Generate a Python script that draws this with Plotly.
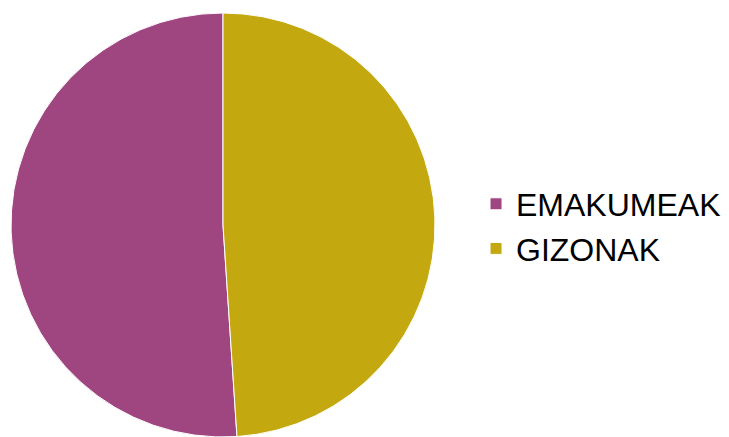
import plotly.graph_objects as go

labels = ["EMAKUMEAK", "GIZONAK"]
values = [51.05, 48.95]
colors = ["#9F4580", "#C3A80F"]

fig = go.Figure(go.Pie(
    labels=labels,
    values=values,
    sort=False,
    direction="clockwise",
    rotation=176.22,
    marker=dict(colors=colors, line=dict(color="white", width=1)),
    textinfo="none",
    hoverinfo="label+percent",
    domain=dict(x=[3/729, 427/729], y=[8/437, 432/437]),
))

fig.update_layout(
    width=729, height=437,
    margin=dict(l=0, r=0, t=0, b=0),
    paper_bgcolor="white",
    plot_bgcolor="white",
    showlegend=True,
    legend=dict(
        x=0.642, y=0.50, xanchor="left", yanchor="middle",
        font=dict(family="Liberation Sans, Arial, sans-serif", size=32, color="black"),
        tracegroupgap=0,
    ),
)

fig.write_html("out.html")
